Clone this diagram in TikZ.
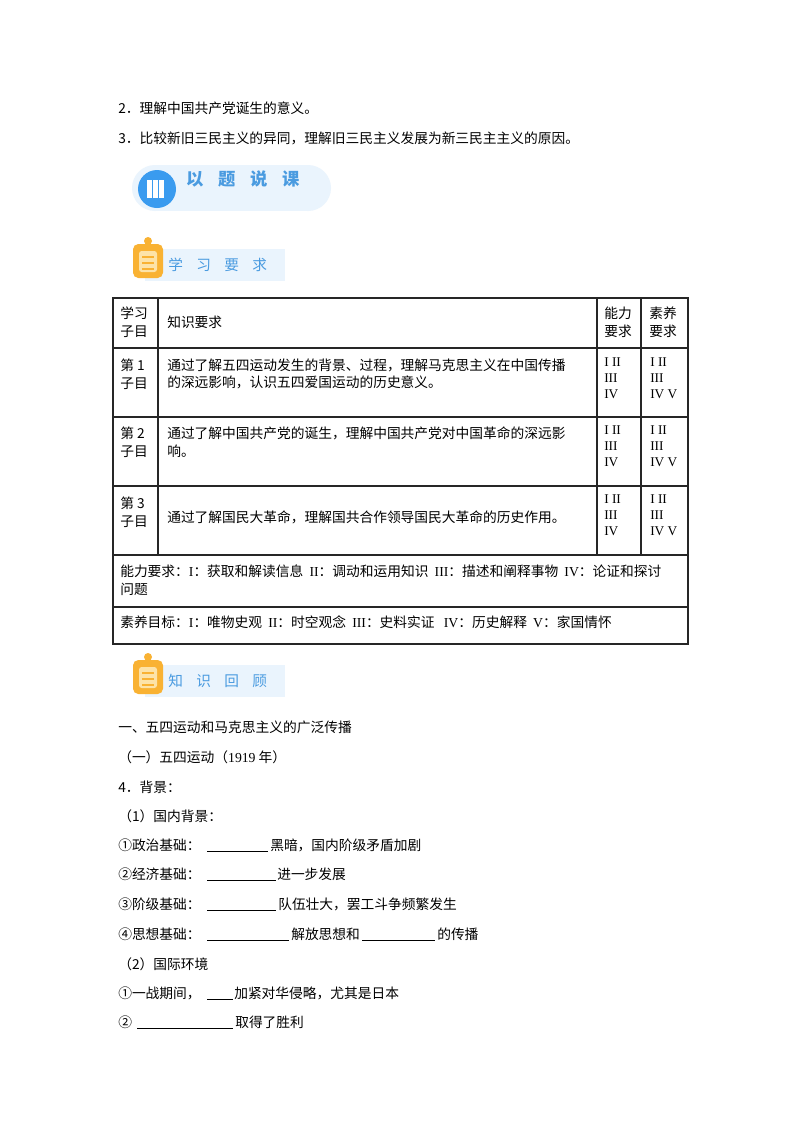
\documentclass[tikz,border=0pt]{standalone}
\usepackage{fontspec}
\setmainfont{Noto Sans CJK SC}
\newfontfamily\rmn{Liberation Serif}
\definecolor{pill}{HTML}{EAF4FD}
\definecolor{bblue}{HTML}{3A9BEF}
\definecolor{tblue}{HTML}{4A9BE0}
\definecolor{org}{HTML}{F9B233}
\definecolor{orgl}{HTML}{FDE3A8}
\begin{document}
\begin{tikzpicture}[x=0.75pt,y=-0.75pt,
  t/.style={anchor=west,inner sep=0pt,font=\fontsize{10.3}{12}\selectfont},
  tl/.style={t,align=left,font=\fontsize{10.3}{13.2}\selectfont},
  rn/.style={anchor=north west,inner sep=0pt,align=left,font=\rmn\fontsize{10}{12}\selectfont},
  ban/.style={anchor=west,inner sep=0pt,text=tblue,font=\fontsize{11}{12}\selectfont},
  blank/.style={line width=0.7pt},
  grid/.style={line width=0.9pt,black!85}]
\useasboundingbox (0,0) rectangle (800,1132);
\fill[white] (0,0) rectangle (800,1132);
% top lines
\node[t] (l2) at (118,108) {2．理解中国共产党诞生的意义。};
\node[t] (l3) at (118,138) {3．比较新旧三民主义的异同，理解旧三民主义发展为新三民主主义的原因。};
% banner 1
\fill[pill] (155,165) rectangle (308,211);
\fill[pill] (155,188) circle[radius=23];
\fill[pill] (308,188) circle[radius=23];
\fill[bblue] (157,189) circle[radius=19];
\foreach \i in {0,1,2}{\fill[white] (147+\i*6,180) rectangle (151.5+\i*6,198);}
\node[ban,font=\bfseries\fontsize{13}{13}\selectfont] (b1) at (186,179) {以\hspace{11pt}题\hspace{11pt}说\hspace{11pt}课};
% banner 2
\fill[pill] (145,249) rectangle (285,281);
\fill[org,rounded corners=4pt] (133,244) rectangle (163,278);
\fill[org] (148,241) circle[radius=4];
\fill[orgl,rounded corners=2pt] (139,251) rectangle (157,272);
\foreach \yy in {257,263,269}{\draw[org,line width=1.2pt] (142,\yy) -- (154,\yy);}
\node[ban] (b2) at (168,265) {学\hspace{10pt}习\hspace{10pt}要\hspace{10pt}求};
% table
\draw[grid] (113,298) rectangle (688,644);
\foreach \yy in {348,417,486,555,607}{\draw[grid] (113,\yy) -- (688,\yy);}
\foreach \xx in {158,597,641}{\draw[grid] (\xx,298) -- (\xx,555);}
\node[tl] (h1) at (120,322) {学习\\子目};
\node[t] (h2) at (167,322) {知识要求};
\node[tl] (h3) at (604,322) {能力\\要求};
\node[tl] (h4) at (649,322) {素养\\要求};
\node[tl] (r1a) at (120,374) {第 1\\子目};
\node[tl] (r1b) at (167,374) {通过了解五四运动发生的背景、过程，理解马克思主义在中国传播\\的深远影响，认识五四爱国运动的历史意义。};
\node[rn] (r1c) at (604,357) {I II\\III\\IV};
\node[rn] (r1d) at (650,357) {I II\\III\\IV V};
\node[tl] (r2a) at (120,442) {第 2\\子目};
\node[tl] (r2b) at (167,442) {通过了解中国共产党的诞生，理解中国共产党对中国革命的深远影\\响。};
\node[rn] (r2c) at (604,425) {I II\\III\\IV};
\node[rn] (r2d) at (650,425) {I II\\III\\IV V};
\node[tl] (r3a) at (120,512) {第 3\\子目};
\node[t] (r3b) at (167,517) {通过了解国民大革命，理解国共合作领导国民大革命的历史作用。};
\node[rn] (r3c) at (604,494) {I II\\III\\IV};
\node[rn] (r3d) at (650,494) {I II\\III\\IV V};
\node[tl] (r4) at (120,580) {能力要求：{\rmn I}：获取和解读信息\ \ {\rmn II}：调动和运用知识\ \ {\rmn III}：描述和阐释事物\ \ {\rmn IV}：论证和探讨\\问题};
\node[t] (r5) at (120,622) {素养目标：{\rmn I}：唯物史观\ \ {\rmn II}：时空观念\ \ {\rmn III}：史料实证\ \ \ {\rmn IV}：历史解释\ \ {\rmn V}：家国情怀};
% banner 3
\fill[pill] (145,665) rectangle (285,697);
\fill[org,rounded corners=4pt] (133,660) rectangle (163,694);
\fill[org] (148,657) circle[radius=4];
\fill[orgl,rounded corners=2pt] (139,667) rectangle (157,688);
\foreach \yy in {673,679,685}{\draw[org,line width=1.2pt] (142,\yy) -- (154,\yy);}
\node[ban] (b3) at (168,681) {知\hspace{10pt}识\hspace{10pt}回\hspace{10pt}顾};
% body text
\node[t] (s1) at (118,727) {一、五四运动和马克思主义的广泛传播};
\node[t] (s2) at (118,757) {（一）五四运动（{\rmn 1919} 年）};
\node[t] (s3) at (118,787) {4．背景：};
\node[t] (s4) at (118,816) {（1）国内背景：};
\node[t] (p1) at (118,845) {①政治基础：};
\draw[blank] (207,851) -- (268,851);
\node[t] (p1b) at (270,845) {黑暗，国内阶级矛盾加剧};
\node[t] (p2) at (118,874) {②经济基础：};
\draw[blank] (207,880) -- (276,880);
\node[t] (p2b) at (277,874) {进一步发展};
\node[t] (p3) at (118,904) {③阶级基础：};
\draw[blank] (207,910) -- (276,910);
\node[t] (p3b) at (278,904) {队伍壮大，罢工斗争频繁发生};
\node[t] (p4) at (118,934) {④思想基础：};
\draw[blank] (207,940) -- (289,940);
\node[t] (p4b) at (291,934) {解放思想和};
\draw[blank] (362,940) -- (435,940);
\node[t] (p4c) at (437,934) {的传播};
\node[t] (s5) at (118,964) {（2）国际环境};
\node[t] (q1) at (118,993) {①一战期间，};
\draw[blank] (207,999) -- (233,999);
\node[t] (q1b) at (234,993) {加紧对华侵略，尤其是日本};
\node[t] (q2) at (118,1022) {②};
\draw[blank] (137,1028) -- (233,1028);
\node[t] (q2b) at (235,1022) {取得了胜利};
\end{tikzpicture}
\end{document}
